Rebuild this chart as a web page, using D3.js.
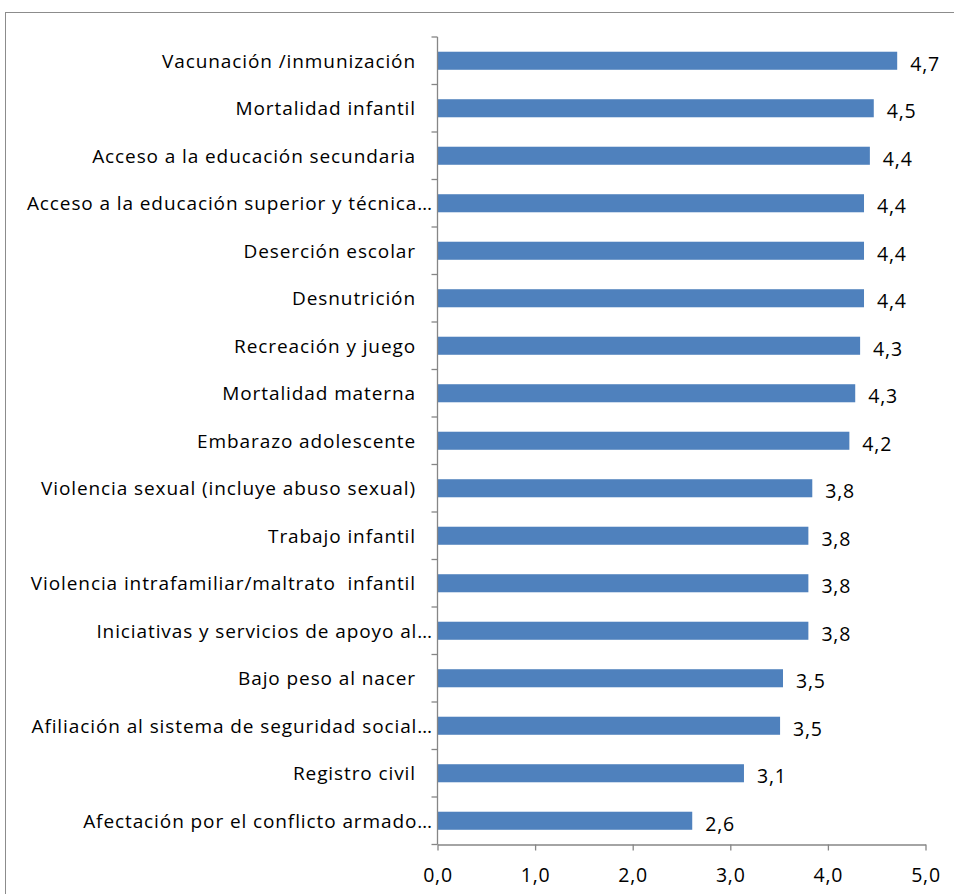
<!DOCTYPE html>
<html><head><meta charset="utf-8">
<script src="https://cdn.jsdelivr.net/npm/d3@7"></script>
<style>body{margin:0;background:#fff}svg{display:block}text{font-family:"Open Sans",sans-serif;fill:#000}</style>
</head><body><svg id="c" width="954" height="894"></svg>
<script>
const categories = [
 "Vacunación /inmunización",
 "Mortalidad infantil",
 "Acceso a la educación secundaria",
 "Acceso a la educación superior y técnica…",
 "Deserción escolar",
 "Desnutrición",
 "Recreación y juego",
 "Mortalidad materna",
 "Embarazo adolescente",
 "Violencia sexual (incluye abuso sexual)",
 "Trabajo infantil",
 "Violencia intrafamiliar/maltrato  infantil",
 "Iniciativas y servicios de apoyo al…",
 "Bajo peso al nacer",
 "Afiliación al sistema de seguridad social…",
 "Registro civil",
 "Afectación por el conflicto armado…"
];
const values = [4.71,4.47,4.43,4.37,4.37,4.37,4.33,4.28,4.22,3.84,3.80,3.80,3.80,3.54,3.51,3.14,2.61];
const xTicks = [0,1,2,3,4,5];

const svg = d3.select("#c");
const axisColor = "#868686";
svg.append("rect").attr("x",5.5).attr("y",12.5).attr("width",1000).attr("height",1000)
  .attr("fill","none").attr("stroke","#8c8c8c").attr("stroke-width",1);

const x0 = 437.5, x1 = 925.5, yTop = 37, yBot = 844.5;
const x = d3.scaleLinear().domain([0,5]).range([x0,x1]);
const y = d3.scaleBand().domain(categories).range([yTop,yBot]).paddingInner(0.62).paddingOuter(0.31);
const fmt = v => d3.format(".1f")(v).replace(".",",");
const FS = 19;

// bars
svg.append("g").selectAll("rect").data(values).join("rect")
  .attr("x",x(0)).attr("y",(d,i)=>y(categories[i]))
  .attr("width",d=>x(d)-x(0)).attr("height",y.bandwidth())
  .attr("fill","#4F81BD");

// y axis line and ticks
const g = svg.append("g").attr("stroke",axisColor).attr("stroke-width",1.3).attr("fill","none");
g.append("line").attr("x1",x0).attr("x2",x0).attr("y1",yTop).attr("y2",yBot);
const step = (yBot-yTop)/categories.length;
d3.range(categories.length+1).forEach(i=>{
  const yy = yTop + i*step;
  g.append("line").attr("x1",x0-6).attr("x2",x0).attr("y1",yy).attr("y2",yy);
});
// x axis
const xa = svg.append("g").attr("transform",`translate(0,${yBot})`)
  .call(d3.axisBottom(x).tickValues(xTicks).tickSize(6).tickSizeOuter(0).tickFormat(fmt));
xa.select(".domain").attr("stroke",axisColor).attr("stroke-width",1.3);
xa.selectAll(".tick line").attr("stroke",axisColor).attr("stroke-width",1.3);
xa.selectAll(".tick text").attr("font-size",19.5).attr("font-family","'Open Sans', sans-serif")
  .attr("letter-spacing","0.8px").attr("fill","#000")
  .attr("y",37.5).attr("dy",0);

// category labels
svg.append("g").selectAll("text").data(categories).join("text")
  .attr("x",d=>d.endsWith("…") ? 433 : 416).attr("y",d=>y(d)+y.bandwidth()/2).attr("dy","0.36em")
  .attr("text-anchor","end").attr("font-size",FS).attr("letter-spacing","0.9px").style("white-space","pre")
  .text(d=>d);

// value labels
svg.append("g").selectAll("text").data(values).join("text")
  .attr("x",d=>x(d)+13).attr("y",(d,i)=>y(categories[i])+y.bandwidth()/2+3).attr("dy","0.36em")
  .attr("font-size",19.5).attr("letter-spacing","0.8px").text(fmt);
</script></body></html>
